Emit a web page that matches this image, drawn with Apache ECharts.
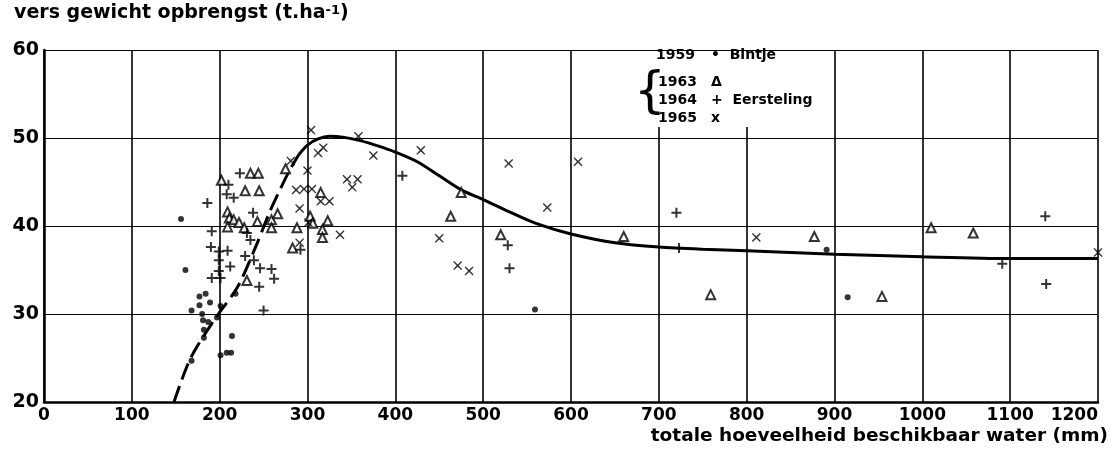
<!DOCTYPE html>
<html>
<head>
<meta charset="utf-8">
<title>vers gewicht opbrengst</title>
<script src="https://cdn.jsdelivr.net/npm/echarts@6/dist/echarts.min.js"></script>
<style>
  html, body { margin: 0; padding: 0; background: #fff; }
  #chart { width: 1119px; height: 454px; }
</style>
</head>
<body>
<div id="chart"></div>
<script>
// tick values of the axes
const xTicks = [0, 100, 200, 300, 400, 500, 600, 700, 800, 900, 1000, 1100, 1200];
const yTicks = [20, 30, 40, 50, 60];

// 1959 Bintje (dots): [water mm, yield t/ha]
const bintje1959 = [
  [156, 40.8], [161, 35.0], [177, 32.0], [184, 32.3], [189, 31.3], [177, 31.0],
  [168, 30.4], [180, 30.0], [181, 29.3], [187, 29.1], [197, 29.6], [201, 30.9],
  [182, 28.2], [182, 27.3], [168, 24.7], [201, 25.3], [208, 25.6], [213, 25.6],
  [214, 27.5], [218, 32.3], [559, 30.5], [891, 37.3], [915, 31.9]
];

// 1963 Eersteling (triangles)
const eersteling1963 = [
  [202, 45.2], [235, 46.0], [244, 46.0], [229, 44.0], [245, 44.0], [209, 41.6],
  [211, 40.9], [216, 40.7], [222, 40.4], [228, 39.8], [209, 39.9], [243, 40.5],
  [231, 33.8], [259, 40.7], [259, 39.8], [266, 41.4], [275, 46.5], [288, 39.8],
  [283, 37.5], [303, 41.1], [306, 40.3], [315, 43.8], [323, 40.6], [317, 39.6],
  [317, 38.7], [463, 41.1], [475, 43.8], [520, 39.0], [660, 38.8], [759, 32.2],
  [877, 38.8], [954, 32.0], [1010, 39.8], [1058, 39.2]
];

// 1964 Eersteling (plus)
const eersteling1964 = [
  [223, 46.0], [210, 44.7], [208, 43.6], [216, 43.2], [186, 42.6], [238, 41.5],
  [191, 39.4], [231, 39.2], [235, 38.4], [190, 37.6], [199, 37.1], [209, 37.2],
  [229, 36.6], [199, 36.1], [212, 35.4], [199, 34.9], [191, 34.1], [201, 34.1],
  [239, 36.1], [246, 35.2], [259, 35.1], [262, 34.0], [245, 33.1], [250, 30.4],
  [292, 37.3], [408, 45.7], [528, 37.8], [530, 35.2], [720, 41.5], [723, 37.5],
  [1091, 35.7], [1140, 41.1], [1141, 33.4]
];

// 1965 Eersteling (crosses)
const eersteling1965 = [
  [281, 47.4], [300, 46.3], [304, 50.9], [312, 48.3], [318, 48.9], [358, 50.2],
  [375, 48.0], [429, 48.6], [287, 44.1], [296, 44.2], [305, 44.2], [315, 42.8],
  [325, 42.8], [345, 45.3], [357, 45.3], [351, 44.4], [291, 42.0], [301, 40.4],
  [337, 39.0], [291, 38.1], [450, 38.6], [471, 35.5], [484, 34.9], [529, 47.1],
  [573, 42.1], [608, 47.3], [811, 38.7], [1200, 37.0]
];

// fitted curve, rising part drawn dashed
const curveRising = [
  [148, 20], [167, 25], [195, 29.5], [220, 33], [240, 37.4], [257, 41.6],
  [270, 44.4], [280, 46.4], [290, 48.1]
];
const curveMain = [
  [290, 48.1], [300, 49.2], [312, 49.9], [325, 50.2], [340, 50.1], [360, 49.7],
  [380, 49.1], [400, 48.4], [425, 47.3], [450, 45.7], [475, 44.1], [500, 43.0],
  [530, 41.6], [560, 40.3], [600, 39.1], [650, 38.1], [700, 37.6], [750, 37.35],
  [800, 37.2], [900, 36.8], [1000, 36.5], [1100, 36.3], [1200, 36.3]
];

const FONT = 'DejaVu Sans';
const plusPath = 'path://M4,0H6V4H10V6H6V10H4V6H0V4H4Z';
const crossPath = 'path://M1,0L5,3.8L9,0L10,1L6.2,5L10,9L9,10L5,6.2L1,10L0,9L3.8,5L0,1Z';

const chart = echarts.init(document.getElementById('chart'), null, { renderer: 'canvas' });

const scatterBase = {
  type: 'scatter',
  silent: true,
  itemStyle: { color: '#000' },
  z: 5
};

// bold black text helper for the legend block
const legendText = (left, top, text, extra) => ({
  type: 'text', left, top, silent: true, z: 101,
  style: Object.assign({ text, fontFamily: FONT, fontWeight: 'bold', fontSize: 14, fill: '#000' }, extra || {})
});

const option = {
  backgroundColor: '#fff',
  animation: false,
  grid: { left: 44, right: 21, top: 50, bottom: 52 },
  xAxis: {
    type: 'value',
    min: xTicks[0],
    max: xTicks[xTicks.length - 1],
    interval: 100,
    axisLine: { show: true, onZero: false, lineStyle: { color: '#000', width: 2.5 } },
    axisTick: { show: false },
    axisLabel: {
      color: '#000', fontFamily: FONT, fontWeight: 'bold', fontSize: 17, margin: 5,
      alignMaxLabel: 'right',
      formatter: v => xTicks.includes(v) ? String(v) : ''
    },
    splitLine: { show: true, lineStyle: { color: '#000', width: 1.6 } }
  },
  yAxis: {
    type: 'value',
    min: yTicks[0],
    max: yTicks[yTicks.length - 1],
    interval: 10,
    axisLine: { show: true, onZero: false, lineStyle: { color: '#000', width: 2.5 } },
    axisTick: { show: false },
    axisLabel: {
      color: '#000', fontFamily: FONT, fontWeight: 'bold', fontSize: 19, margin: 5,
      formatter: v => yTicks.includes(v) ? String(v) : ''
    },
    splitLine: { show: true, lineStyle: { color: '#000', width: 1.2 } }
  },
  graphic: [
    { // y axis title
      type: 'text', left: 14, top: 4, silent: true,
      style: {
        text: '{a|vers gewicht opbrengst (t.ha}{s|-1}{a|)}',
        rich: {
          a: { fontFamily: FONT, fontWeight: 'bold', fontSize: 19, fill: '#000', verticalAlign: 'bottom' },
          s: { fontFamily: FONT, fontWeight: 'bold', fontSize: 13, fill: '#000', verticalAlign: 'top' }
        }
      }
    },
    { // x axis title
      type: 'text', right: 11, top: 427, silent: true,
      style: { text: 'totale hoeveelheid beschikbaar water (mm)', fontFamily: FONT, fontWeight: 'bold', fontSize: 18.5, fill: '#000' }
    },
    // legend block: white box hides grid lines behind it
    { type: 'rect', left: 622, top: 52, silent: true, z: 100,
      shape: { width: 205, height: 75 }, style: { fill: '#fff' } },
    legendText(656, 48, '1959'),
    legendText(711, 48, '•  Bintje'),
    legendText(634, 69, '{', { fontWeight: 'normal', fontSize: 50 }),
    legendText(658, 73, '1963\n1964\n1965', { lineHeight: 18 }),
    legendText(711, 73, 'Δ\n+  Eersteling\nx', { lineHeight: 18 })
  ],
  series: [
    {
      name: 'curve rising', type: 'line', data: curveRising, smooth: 0.3,
      symbol: 'none', silent: true, z: 4,
      lineStyle: { color: '#000', width: 3, type: [17, 7] }
    },
    {
      name: 'curve', type: 'line', data: curveMain, smooth: 0.3,
      symbol: 'none', silent: true, z: 4,
      lineStyle: { color: '#000', width: 3 }
    },
    Object.assign({}, scatterBase, { name: '1959 Bintje', data: bintje1959, symbol: 'circle', symbolSize: 6 }),
    Object.assign({}, scatterBase, {
      name: '1963', data: eersteling1963, symbol: 'emptyTriangle', symbolSize: 9,
      itemStyle: { color: '#000', borderColor: '#000', borderWidth: 2 }
    }),
    Object.assign({}, scatterBase, { name: '1964', data: eersteling1964, symbol: plusPath, symbolSize: 10 }),
    Object.assign({}, scatterBase, { name: '1965', data: eersteling1965, symbol: crossPath, symbolSize: 9 })
  ]
};

chart.setOption(option);
window.addEventListener('resize', () => chart.resize());
</script>
</body>
</html>
